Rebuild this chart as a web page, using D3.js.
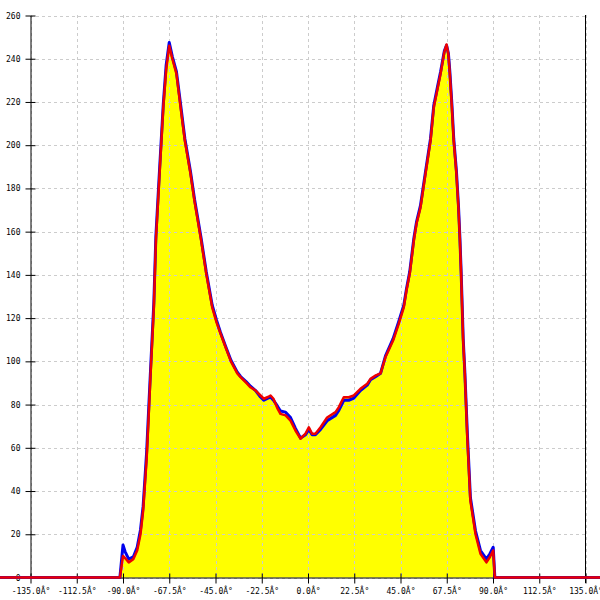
<!DOCTYPE html>
<html><head><meta charset="utf-8">
<script src="https://cdn.jsdelivr.net/npm/d3@7"></script>
<style>body{margin:0;background:#fff}svg{display:block}</style>
</head><body><svg id="c" width="600" height="600"></svg>
<script>
const angles = [-150,-91.5,-90,-89,-87.2,-85,-83.1,-81.5,-80.2,-78.5,-77.5,-76.6,-75,-74,-72.2,-70.4,-69,-67.5,-66,-64,-62,-59.9,-57.2,-55.2,-52,-49.5,-46.6,-44.5,-42.6,-40.1,-37.5,-34.4,-32.8,-30,-28,-25.5,-23.1,-21.5,-19.5,-18.2,-16.8,-15,-13.4,-10.9,-8.5,-6.1,-3.6,-1.2,0.4,2,3.6,6.1,9.3,13.4,15,17.4,19.8,22.3,25.5,28.8,30.4,33,35.3,37.7,41.4,44,46.6,47.9,49.5,51.5,52.8,54.7,57.2,59.6,61.2,63,64.5,66.3,67.4,68.3,69,70,70.9,72.2,73.2,73.9,74.5,75,75.5,76.3,77.5,79,81.5,83.9,86.8,88.5,90.1,90.9,150];
const redValues = [0,0,10,9,7,8.5,12.5,20,31,55,75,94,125,156,187,217.6,235,246,240,233,217.6,202,187,174,156,140.6,125,118,113,106.5,100,94.4,92.7,90,88,86.5,84.2,82.7,83.5,84.2,82.7,78.5,75.7,75,72.6,68,64.2,66.6,69.5,66.5,66.5,69.5,74,76.5,78.8,83.4,83.4,84.2,87.3,89.6,91.9,93.5,94.4,102,109.6,117,125,132.8,140.6,156,163.8,171,187,202,217.6,226,233,243,246.6,242,233,217.6,202,187,171,156,140.6,125,109.6,94.4,65,35.6,20,11,7,9.5,12.5,0,0];
const blueValues = [0,0,15,12,8.5,9.5,14,22,33,58,78,96,127,158,189,219,237,247.5,241,234,219,203,188,175,157,141.5,126,119,113.5,107,100.5,95,93,90.5,88.5,86.5,83.5,82,83,83.5,82,79.5,77,76.5,74,69,64.5,66,68.5,66,66,68.5,72.5,75,77.3,82,82,83,86.5,89,91.5,93,94.5,102.5,110.5,118,126,133.5,141.5,157,164.5,172,188,203,218.5,227,234,243.5,246.2,242.5,234,219,203,188,172,157,141.5,126,110.5,95,67,37,21.5,12.5,8.5,11,14,0,0];
const xTicks = [-135,-112.5,-90,-67.5,-45,-22.5,0,22.5,45,67.5,90,112.5,135];
const yTicks = [0,20,40,60,80,100,120,140,160,180,200,220,240,260];

const svg = d3.select("#c");
const x = d3.scaleLinear().domain([-135,135]).range([30.5,585.5]);
const y = d3.scaleLinear().domain([0,260]).range([577.5,15.5]);
const font = "'DejaVu Sans Mono', monospace";

const data = angles.map((a,i)=>({a, r:redValues[i], b:blueValues[i]}));

// fill
svg.append("path").datum(data)
  .attr("d", d3.area().x(d=>x(d.a)).y0(y(0)).y1(d=>y(d.r)))
  .attr("fill","#ffff00");

// grid
const g = svg.append("g");
g.selectAll(".hg").data(yTicks).join("line")
  .attr("x1",30).attr("x2",585).attr("y1",d=>Math.round(y(d))+0.5).attr("y2",d=>Math.round(y(d))+0.5)
  .attr("stroke","#cccccc").attr("stroke-dasharray","3,3");
g.selectAll(".vg").data(xTicks).join("line")
  .attr("x1",d=>Math.round(x(d))+0.5).attr("x2",d=>Math.round(x(d))+0.5).attr("y1",15).attr("y2",577)
  .attr("stroke","#cccccc").attr("stroke-dasharray","3,3");

// axes
const yAxis = d3.axisLeft(y).tickValues(yTicks).tickSizeInner(5).tickSizeOuter(0).tickPadding(5);
const ya = svg.append("g").attr("transform","translate(30.5,0)").call(yAxis);
ya.selectAll(".tick line").attr("x2",5).attr("x1",-5);
const xaxis = d3.axisBottom(x).tickValues(xTicks).tickSizeInner(5).tickSizeOuter(0).tickPadding(6)
  .tickFormat(d=>d.toFixed(1)+"Â°");
const xa = svg.append("g").attr("transform","translate(0,577.5)").call(xaxis);
xa.selectAll(".tick line").attr("y1",-4).attr("y2",6);
[ya,xa].forEach(a=>{a.selectAll("text").attr("font-family",font).attr("font-size",8).attr("fill","#000");
  a.select(".domain").attr("stroke","#000");});
// right border
svg.append("line").attr("x1",585.5).attr("x2",585.5).attr("y1",15).attr("y2",583).attr("stroke","#000");

// lines
svg.append("path").datum(data)
  .attr("d", d3.line().x(d=>x(d.a)).y(d=>y(d.b)))
  .attr("fill","none").attr("stroke","#0000ee").attr("stroke-width",3).attr("stroke-linejoin","round");
svg.append("path").datum(data)
  .attr("d", d3.line().x(d=>x(d.a)).y(d=>y(d.r)))
  .attr("fill","none").attr("stroke","#ee0000").attr("stroke-width",2.5).attr("stroke-linejoin","round");
</script></body></html>
